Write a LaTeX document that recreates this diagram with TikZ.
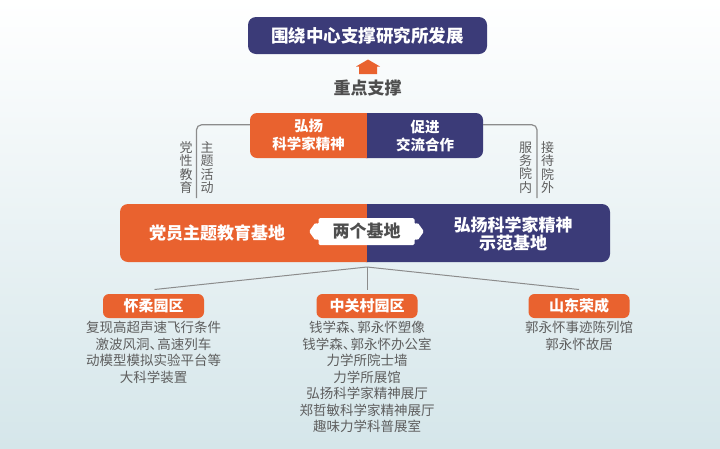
\documentclass[tikz,border=0pt]{standalone}
\usepackage{fontspec}
\setmainfont{Noto Sans CJK SC}
\definecolor{orgc}{HTML}{E9622F}
\definecolor{navc}{HTML}{3B3B78}
\definecolor{txtg}{HTML}{5E5E5E}
\definecolor{darkg}{HTML}{4E4E4E}
\definecolor{lineg}{HTML}{8C8C8C}
\definecolor{bgb}{HTML}{D5E6EA}
\newcommand{\dunhao}{、\kern-0.42em}
\tikzset{
  conn/.style={draw=lineg, line width=1.2pt},
  wtext/.style={text=white, font=\fontsize{17}{19}\selectfont\bfseries, align=center, inner sep=0pt},
  midtext/.style={text=white, font=\fontsize{14.5}{18}\selectfont\bfseries, align=center, inner sep=0pt},
  vtext/.style={text=txtg, font=\fontsize{13}{13.3}\selectfont, align=center, inner sep=0pt},
  hdr/.style={fill=orgc, rounded corners=6pt, minimum width=101pt, minimum height=24pt, inner sep=0pt, text=white, font=\fontsize{15}{17}\selectfont\bfseries},
  listtext/.style={text=txtg, font=\fontsize{13.5}{16.5}\selectfont, align=center, inner sep=0pt, anchor=north},
}
\begin{document}
\begin{tikzpicture}[x=1pt,y=-1pt]
\useasboundingbox (0,0) rectangle (720,448);
\shade[top color=white, bottom color=bgb] (0,0) rectangle (720,448);

% top box
\node[fill=navc, rounded corners=8pt, minimum width=239pt, minimum height=37pt, inner sep=0pt,
      text=white, font=\fontsize{17.5}{20}\selectfont\bfseries] (top) at (367.5,35.5) {围绕中心支撑研究所发展};

% up arrow
\fill[orgc] (368,59.5) -- (380,66.5) -- (377,66.5) -- (377,74) -- (359,74) -- (359,66.5) -- (356,66.5) -- cycle;
\node[text=darkg, font=\fontsize{17}{20}\selectfont\bfseries, inner sep=0pt] (zd) at (367.5,88) {重点支撑};

% middle two-part box
\node[minimum width=233pt, minimum height=45pt, inner sep=0pt] (mid) at (366.5,135.5) {};
\fill[orgc, rounded corners=7pt] (250,113) rectangle (375,158);
\fill[navc, rounded corners=7pt] (359,113) rectangle (483,158);
\fill[orgc] (359,113) rectangle (367,158);
\node[midtext] (hy) at (308.5,135.5) {弘扬\\科学家精神};
\node[midtext] (cj) at (425,135.5) {促进\\交流合作};

% brackets
\coordinate (lb) at (196.5,198);
\coordinate (rb) at (537,198);
\draw[conn, rounded corners=5pt] ([yshift=-12pt]mid.north west) -| (lb);
\draw[conn, rounded corners=5pt] ([yshift=-12pt]mid.north east) -| (rb);
\node[vtext] (v1) at (186,167.5) {党\\性\\教\\育};
\node[vtext] (v2) at (207,167.5) {主\\题\\活\\动};
\node[vtext] (v3) at (525.5,167.5) {服\\务\\院\\内};
\node[vtext] (v4) at (547.5,167.5) {接\\待\\院\\外};

% big bar
\node[minimum width=490pt, minimum height=58pt, inner sep=0pt] (bar) at (365,233) {};
\fill[orgc, rounded corners=8pt] (120,204) rectangle (376,262);
\fill[navc, rounded corners=8pt] (358,204) rectangle (610,262);
\fill[orgc] (358,204) rectangle (367,262);
\node[wtext] (jd1) at (217,233) {党员主题教育基地};
\node[wtext, font=\fontsize{17}{18.5}\selectfont\bfseries] (jd2) at (513,234) {弘扬科学家精神\\示范基地};

% two bases label
\fill[white, rounded corners=1.5pt]
  (309,231.5) -- (315.5,222.5) -- (318.5,224.5) -- (318.5,218) -- (414.5,218) -- (414.5,224.5) -- (417.5,222.5)
  -- (424,231.5) -- (417.5,240.5) -- (414.5,238.5) -- (414.5,245) -- (318.5,245) -- (318.5,238.5) -- (315.5,240.5) -- cycle;
\node[text=darkg, font=\fontsize{17}{19}\selectfont\bfseries, inner sep=0pt] (lg) at (366.5,231.5) {两个基地};

% fan lines
\coordinate (apex) at (367,267);
\node[hdr] (h1) at (153.5,306) {怀柔园区};
\node[hdr] (h2) at (367,306) {中关村园区};
\node[hdr] (h3) at (579,306) {山东荣成};
\coordinate (e1) at (154.5,289.5);
\coordinate (e2) at (367,289.5);
\coordinate (e3) at (579,289.5);
\draw[conn, line width=1pt] (apex) -- (e1);
\draw[conn, line width=1pt] (apex) -- (e2);
\draw[conn, line width=1pt] (apex) -- (e3);

% lists
\node[listtext] (l1) at (153.5,321) {复现高超声速飞行条件\\激波风洞\dunhao 高速列车\\动模型模拟实验平台等\\大科学装置};
\node[listtext] (l2) at (367,321) {钱学森\dunhao 郭永怀塑像\\钱学森\dunhao 郭永怀办公室\\力学所院士墙\\力学所展馆\\弘扬科学家精神展厅\\郑哲敏科学家精神展厅\\趣味力学科普展室};
\node[listtext] (l3) at (579,321) {郭永怀事迹陈列馆\\郭永怀故居};
\end{tikzpicture}
\end{document}
